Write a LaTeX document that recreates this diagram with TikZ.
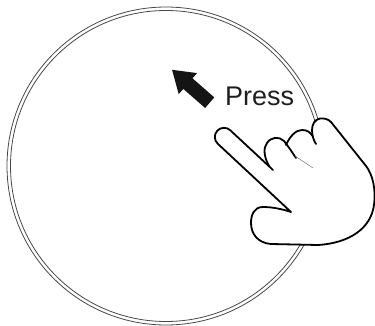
\documentclass[tikz,border=0pt]{standalone}
\usepackage{fontspec}
\setmainfont{Liberation Sans}
\begin{document}
\begin{tikzpicture}[x=1pt,y=-1pt,
  rim/.style={line width=0.8pt, draw=black!72},
  handline/.style={line width=1.8pt, line join=round, line cap=round},
  crease/.style={line width=0.5pt, draw=black!55},
  ]
\useasboundingbox (0,0) rectangle (375,326);
\fill[white] (0,0) rectangle (375,326);

% double rim of the dial
\draw[rim] (166,166) circle[radius=159];
\draw[rim] (166,166) circle[radius=155.5];

% direction arrow
\fill[black!92] (205.1,108.0) -- (183.3,88.9) -- (178.7,94.1) -- (172.05,69.8)
  -- (197.1,73.1) -- (192.5,78.3) -- (214.3,97.4) -- cycle;
\node[anchor=base west, font=\fontsize{27}{27}\selectfont, text=black!88, inner sep=0pt] (press) at (225,105.5) {Press};

% hand: white body covering the rim
\fill[white] (273,170) -- (230.3,130.3)
  .. controls (226.6,126.8) and (220.75,127.0) .. (217.3,130.7)
  .. controls (213.85,134.4) and (214.0,140.2) .. (217.7,143.7)
  -- (291,212) .. controls (282,209) and (272,207) .. (263,207)
  .. controls (254,207) and (251,215) .. (251,223)
  .. controls (251,234) and (258,243) .. (271,244)
  -- (318,245) .. controls (350,243) and (371,228) .. (374,205)
  .. controls (376,190) and (373,175) .. (366,166)
  -- (331,122) .. controls (328,119) and (324,118) .. (320,118.5)
  .. controls (315,119.5) and (312,124) .. (312,130)
  -- (302,130) -- (284,140) -- (268,143) -- (269,166) -- cycle;

% hand outline: index finger, thumb, palm edge and last knuckle
\draw[handline] (273,170) -- (230.3,130.3)
  .. controls (226.6,126.8) and (220.75,127.0) .. (217.3,130.7)
  .. controls (213.85,134.4) and (214.0,140.2) .. (217.7,143.7)
  -- (291,212) .. controls (282,209) and (272,207) .. (263,207)
  .. controls (254,207) and (251,215) .. (251,223)
  .. controls (251,234) and (258,243) .. (271,244)
  -- (318,245) .. controls (350,243) and (371,228) .. (374,205)
  .. controls (376,190) and (373,175) .. (366,166)
  -- (331,122) .. controls (328,119) and (324,118) .. (320,118.5)
  .. controls (315,119.5) and (312,124) .. (312,130)
  .. controls (312,136) and (314,141) .. (316,144);

% curled fingers
\draw[handline] (269,166) .. controls (264,157) and (263,148) .. (267,143)
  .. controls (271,137) and (279,136) .. (284,141)
  .. controls (288,146) and (292,152) .. (296,158);
\draw[handline] (286,145) .. controls (290,136) and (296,130) .. (302,130)
  .. controls (307,130) and (310,132) .. (312.5,136);

% palm crease
\draw[crease] (295,156) -- (313,168);
\end{tikzpicture}
\end{document}
